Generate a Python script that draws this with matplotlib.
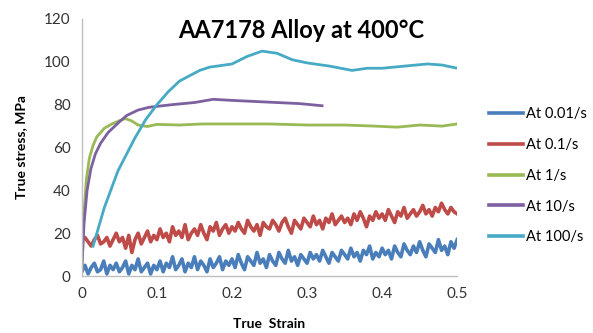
import numpy as np
import matplotlib
matplotlib.use('Agg')
import matplotlib.pyplot as plt

plt.rcParams['font.family'] = ['Lato', 'DejaVu Sans']

# Noisy low-rate curves (evenly spaced in strain)
stress_001 = [
    2, 5, 1, 4, 6, 2, 3, 7, 1, 5, 3, 6,
    2, 4, 7, 1, 5, 3, 8, 2, 4, 6, 1, 5,
    3, 7, 2, 6, 4, 9, 3, 5, 8, 2, 6, 4,
    9, 3, 7, 5, 2, 8, 4, 6, 9, 3, 7, 5,
    8, 4, 10, 6, 3, 9, 7, 5, 11, 6, 8, 4,
    10, 7, 5, 11, 8, 6, 12, 7, 9, 5, 10, 8,
    6, 11, 8, 10, 7, 12, 9, 6, 11, 9, 7, 12,
    10, 8, 13, 9, 11, 7, 12, 10, 14, 8, 11, 9,
    13, 10, 12, 8, 14, 11, 9, 15, 12, 10, 14, 11,
    16, 12, 9, 15, 13, 11, 17, 12, 14, 10, 16, 13,
    17,
]
stress_01 = [
    17, 18, 16, 14, 17, 19, 15, 16, 18, 14, 17, 20,
    16, 18, 13, 19, 11, 17, 20, 15, 18, 21, 16, 19,
    17, 22, 18, 20, 16, 23, 19, 21, 18, 24, 17, 20,
    22, 19, 24, 20, 17, 23, 21, 25, 19, 22, 24, 20,
    23, 21, 25, 22, 20, 26, 23, 21, 24, 19, 25, 23,
    22, 26, 24, 21, 25, 27, 23, 20, 26, 24, 22, 27,
    25, 23, 28, 24, 26, 22, 27, 25, 29, 24, 26, 28,
    25, 27, 24, 29, 26, 30, 27, 23, 28, 26, 30, 27,
    29, 26, 31, 28, 25, 30, 28, 32, 27, 29, 31, 28,
    30, 33, 29, 31, 28, 32, 30, 34, 31, 29, 32, 30,
    29,
]

# Smooth higher-rate curves
strain_1 = [0, 0.003, 0.006, 0.01, 0.015, 0.02, 0.03, 0.04, 0.05, 0.058, 0.066, 0.075,
            0.087, 0.1, 0.13, 0.16, 0.2, 0.25, 0.3, 0.35, 0.39, 0.42, 0.45, 0.48, 0.5]
stress_1 = [3, 30, 45, 55, 61, 65, 69, 71, 72.5, 73.5, 72.5, 70.5,
            69.8, 70.8, 70.5, 71, 71, 71, 70.5, 70.5, 70, 69.5, 70.5, 70, 71]

strain_10 = [0, 0.003, 0.007, 0.012, 0.018, 0.025, 0.035, 0.05, 0.06, 0.075, 0.09, 0.12,
             0.15, 0.175, 0.2, 0.23, 0.26, 0.29, 0.32]
stress_10 = [3, 25, 40, 50, 57, 62, 67, 72, 75, 77.5, 78.8, 80,
             81, 82.5, 82, 81.5, 81, 80.5, 79.5]

strain_100 = [0.015, 0.03, 0.048, 0.07, 0.085, 0.1, 0.115, 0.13, 0.157, 0.17, 0.2, 0.22,
              0.24, 0.26, 0.28, 0.3, 0.33, 0.36, 0.38, 0.4, 0.43, 0.46, 0.48, 0.5]
stress_100 = [14, 32, 49, 64, 73, 80, 86, 91, 96, 97.5, 99, 102.5,
              105, 104, 101, 99.5, 98, 96, 97, 97, 98, 99, 98.5, 97]

labels = ['At 0.01/s', 'At 0.1/s', 'At 1/s', 'At 10/s', 'At 100/s']
colors = ['#4A7EBB', '#BE4B48', '#98B954', '#7D60A0', '#46AAC5']

fig = plt.figure(figsize=(5.93, 3.33), dpi=100)
ax = fig.add_axes([0.138, 0.171, 0.633, 0.772])

x_noisy = np.linspace(0, 0.5, len(stress_001))
ax.plot(x_noisy, stress_001, color=colors[0], lw=2.6, label=labels[0])
ax.plot(x_noisy, stress_01, color=colors[1], lw=2.6, label=labels[1])
ax.plot(strain_1, stress_1, color=colors[2], lw=2.0, label=labels[2])
ax.plot(strain_10, stress_10, color=colors[3], lw=2.0, label=labels[3])
ax.plot(strain_100, stress_100, color=colors[4], lw=2.0, label=labels[4])

ax.set_xlim(0, 0.5)
ax.set_ylim(0, 120)
ax.set_xticks([0, 0.1, 0.2, 0.3, 0.4, 0.5])
ax.set_xticklabels(['0', '0.1', '0.2', '0.3', '0.4', '0.5'])
ax.set_yticks(range(0, 121, 20))
ax.tick_params(length=0, labelsize=11, labelcolor='#333333', pad=8)

for side in ['top', 'right']:
    ax.spines[side].set_visible(False)
for side in ['left', 'bottom']:
    ax.spines[side].set_color('#BFBFBF')
    ax.spines[side].set_linewidth(1)

ax.set_xlabel('True  Strain', fontsize=10, fontweight='bold', labelpad=12)
ax.set_ylabel('True stress, MPa', fontsize=10, fontweight='bold', labelpad=12)

fig.text(301 / 593, 1 - 31 / 333, 'AA7178 Alloy at 400°C', fontsize=17,
         fontweight='bold', ha='center', va='center')

leg = ax.legend(loc='center left', bbox_to_anchor=(1.05, 0.39), frameon=False,
                fontsize=10.5, handlelength=2.3, handletextpad=0.25, labelspacing=1.15)
for line in leg.get_lines():
    line.set_linewidth(2.6)

fig.savefig('out.png', dpi=100)
